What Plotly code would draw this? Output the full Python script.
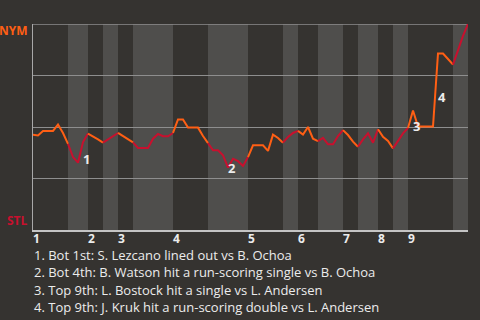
import plotly.graph_objects as go

# NYM win probability (%) after each plate-appearance event
nym_win_pct = [
    46.3, 45.9, 48.1, 48.1, 48.1, 51.2, 47.1, 41.8, 35.4, 32.7,
    42.7, 46.8, 45.6, 44.0, 42.4, 44.0, 45.6, 47.1, 45.6, 44.3,
    42.5, 39.8, 39.8, 39.8, 44.3, 46.6, 45.5, 45.5, 47.1, 53.7,
    53.7, 49.7, 49.7, 49.7, 45.6, 42.2, 38.7, 38.7, 36.3, 30.3,
    34.6, 33.4, 31.1, 35.4, 41.1, 41.1, 41.1, 38.4, 46.3, 44.7,
    42.4, 45.2, 47.1, 48.1, 46.3, 50.0, 44.3, 43.1, 44.7, 41.6,
    41.6, 45.6, 48.5, 46.1, 42.9, 40.4, 44.0, 46.9, 42.4, 48.9,
    45.2, 43.2, 39.6, 43.4, 46.9, 49.5, 58.0, 50.2, 50.2, 50.2,
    50.2, 85.7, 85.7, 83.0, 80.3, 87.4, 94.2, 100.0,
]

# event index where each half-inning begins (top 1st ... bottom 9th, then end)
half_inning_starts = [0, 7, 11, 14, 17, 20, 28, 35, 43, 50, 53, 57, 62, 65, 69, 72, 75, 84, 87]
inning_labels = ["1", "2", "3", "4", "5", "6", "7", "8", "9"]

# key moments: event index where the swing ends, and its description
key_events = [10, 39, 76, 81]
key_texts = [
    "Bot 1st: S. Lezcano lined out vs B. Ochoa",
    "Bot 4th: B. Watson hit a run-scoring single vs B. Ochoa",
    "Top 9th: L. Bostock hit a single vs L. Andersen",
    "Top 9th: J. Kruk hit a run-scoring double vs L. Andersen",
]

BG = "#353330"
BAND = "#4f4e4c"
NYM_COLOR = "#ff5f14"
STL_COLOR = "#c8102e"
TEXT = "#ececec"
FONT = "Open Sans"

fig = go.Figure()

shapes = []
n_half = len(half_inning_starts) - 1
for h in range(n_half):
    x0, x1 = half_inning_starts[h], half_inning_starts[h + 1]
    is_bottom = h % 2 == 1
    if is_bottom:
        shapes.append(dict(type="rect", xref="x", yref="paper", x0=x0, x1=x1, y0=0, y1=1,
                           fillcolor=BAND, line_width=0, layer="below"))
    xs = list(range(x0, x1 + 1))
    ys = [nym_win_pct[i] / 100 for i in xs]
    fig.add_trace(go.Scatter(
        x=xs, y=ys, mode="lines",
        line=dict(color=STL_COLOR if is_bottom else NYM_COLOR, width=2),
        hoverinfo="skip", showlegend=False,
    ))

# rule along the NYM end of the scale
shapes.append(dict(type="line", xref="paper", yref="y", x0=0, x1=1, y0=1, y1=1,
                   line=dict(color="#8e8e8e", width=1.5), layer="below"))

annotations = []
# numbered markers next to the key swings
for k, ev in enumerate(key_events):
    mid_x = ev - 0.5
    mid_y = (nym_win_pct[ev - 1] + nym_win_pct[ev]) / 200
    annotations.append(dict(x=mid_x, y=mid_y, xref="x", yref="y", text=f"<b>{k + 1}</b>",
                            showarrow=False, xanchor="left", yanchor="middle",
                            xshift=0, yshift=-7,
                            font=dict(family=FONT, size=13, color=TEXT)))

# inning numbers along the bottom
for j, lab in enumerate(inning_labels):
    annotations.append(dict(x=half_inning_starts[2 * j], y=0, xref="x", yref="paper",
                            text=f"<b>{lab}</b>", showarrow=False,
                            xanchor="left", yanchor="middle", yshift=-8, xshift=-2,
                            font=dict(family=FONT, size=12, color=TEXT)))

# team labels at the ends of the scale
annotations.append(dict(x=0, y=0.968, xref="paper", yref="paper", text="<b>NYM</b>",
                        showarrow=False, xanchor="right", yanchor="middle", xshift=-3,
                        font=dict(family=FONT, size=12, color=NYM_COLOR)))
annotations.append(dict(x=0, y=0.044, xref="paper", yref="paper", text="<b>STL</b>",
                        showarrow=False, xanchor="right", yanchor="middle", xshift=-3,
                        font=dict(family=FONT, size=12, color=STL_COLOR)))

# numbered list of key moments under the chart
for k, txt in enumerate(key_texts):
    annotations.append(dict(x=0, y=0, xref="paper", yref="paper", text=f"{k + 1}. {txt}",
                            showarrow=False, xanchor="left", yanchor="middle",
                            yshift=-25 - 17.3 * k, xshift=-1,
                            font=dict(family=FONT, size=13, color=TEXT)))

fig.update_layout(
    width=480, height=320,
    margin=dict(l=33, r=12, t=24, b=90),
    paper_bgcolor=BG, plot_bgcolor=BG,
    shapes=shapes, annotations=annotations,
    xaxis=dict(range=[0, half_inning_starts[-1]], showgrid=False, zeroline=False,
               showticklabels=False, ticks="", showline=True, linecolor="#c4c4c4", linewidth=2),
    yaxis=dict(range=[0, 1], tickvals=[0.25, 0.5, 0.75, 1.0], showgrid=True,
               gridcolor="#8e8e8e", gridwidth=1, zeroline=False, showticklabels=False,
               ticks="", showline=True, linecolor="#a8a8a8", linewidth=1),
)

fig.write_html("out.html")
